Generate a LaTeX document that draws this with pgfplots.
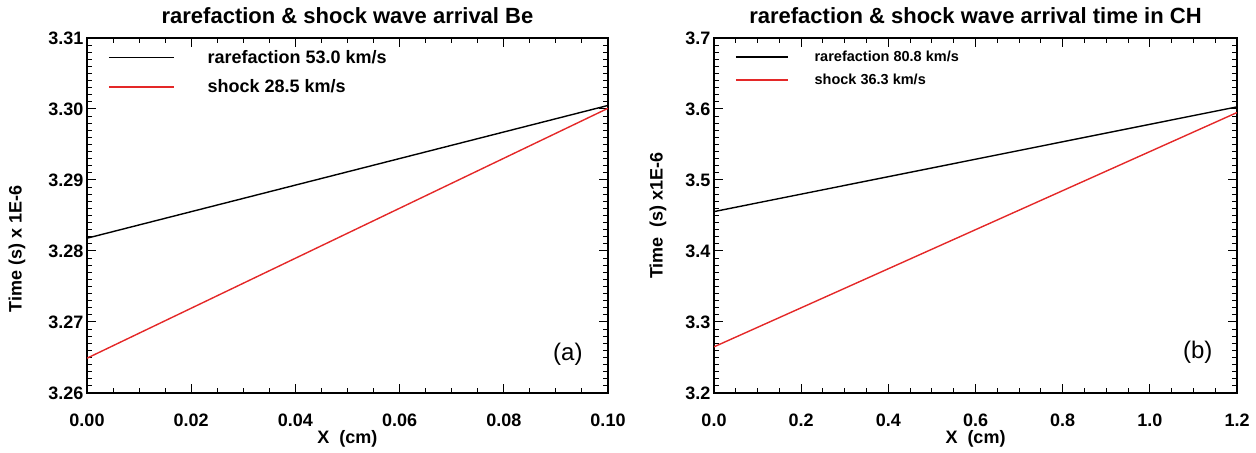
\documentclass[border=0pt]{standalone}
\usepackage{fontspec}
\setmainfont{Liberation Sans}
\usepackage{pgfplots}
\pgfplotsset{compat=1.18}
\definecolor{lred}{RGB}{228,40,40}
\begin{document}
\begin{tikzpicture}
\useasboundingbox (0bp,0bp) rectangle (1256bp,453bp);
\pgfplotsset{
 every axis/.append style={
  scale only axis,
  axis line style={line width=1.2bp},
  every tick/.style={line width=1bp, black},
  major tick length=9bp, minor tick length=5bp,
  tick align=inside,
  minor x tick num=3, minor y tick num=9,
  ticklabel style={font=\fontsize{18bp}{20bp}\selectfont\bfseries},
  xticklabel style={yshift=-17bp},
  /pgf/number format/assume math mode=true,
  /pgf/number format/fixed, /pgf/number format/fixed zerofill,
  title style={font=\fontsize{22bp}{24bp}\selectfont\bfseries, at={(0.5,1)}, anchor=center, yshift=16bp},
  xlabel style={font=\fontsize{18bp}{20bp}\selectfont\bfseries, at={(0.5,0)}, anchor=center, yshift=-46bp},
  legend image code/.code={\draw[#1] (0bp,0bp) -- (65bp,0bp);},
  legend cell align=left,
 }
}
\begin{axis}[
  at={(87bp,60bp)}, anchor=south west, width=521bp, height=355bp,
  xmin=0, xmax=0.1, ymin=3.26, ymax=3.31,
  xtick={0,0.02,...,0.1}, ytick={3.26,3.27,...,3.31},
  xticklabel style={/pgf/number format/precision=2},
  yticklabel style={/pgf/number format/precision=2},
  title={rarefaction \& shock wave arrival Be},
  xlabel={X\ \ (cm)},
  ylabel={Time (s) x 1E-6},
  every axis y label/.style={font=\fontsize{18bp}{20bp}\selectfont\bfseries, at={(rel axis cs:0,0.405)}, xshift=-70bp, rotate=90, anchor=center},
  legend style={at={(0,1)}, anchor=north west, xshift=21bp, yshift=-12bp, draw=none, fill=none, inner sep=0pt,
    font=\fontsize{18bp}{20bp}\selectfont\bfseries, row sep=15bp,
    nodes={inner sep=0pt}, /tikz/every odd column/.append style={column sep=33bp}},
]
\addplot[black, line width=1.4bp] coordinates {(0,3.2818) (0.1,3.3005)};
\addlegendentry{rarefaction 53.0 km/s}
\addplot[lred, line width=1.4bp] coordinates {(0,3.2649) (0.1,3.3001)};
\addlegendentry{shock 28.5 km/s}
\node[font=\fontsize{24bp}{26bp}\selectfont] at (rel axis cs:0.923,0.11) {(a)};
\end{axis}
\begin{axis}[
  at={(714bp,60bp)}, anchor=south west, width=523bp, height=355bp,
  xmin=0, xmax=1.2, ymin=3.2, ymax=3.7,
  xtick={0,0.2,...,1.2}, ytick={3.2,3.3,...,3.7},
  xticklabel style={/pgf/number format/precision=1},
  yticklabel style={/pgf/number format/precision=1},
  title={rarefaction \& shock wave arrival time in CH},
  xlabel={X\ \ (cm)},
  ylabel={Time\ \ (s) x1E-6},
  every axis y label/.style={font=\fontsize{18bp}{20bp}\selectfont\bfseries, at={(rel axis cs:0,0.5)}, xshift=-56bp, rotate=90, anchor=center},
  legend image code/.code={\draw[#1] (0bp,0bp) -- (52bp,0bp);},
  legend style={at={(0,1)}, anchor=north west, xshift=21bp, yshift=-13bp, draw=none, fill=none, inner sep=0pt,
    font=\fontsize{14.5bp}{16bp}\selectfont\bfseries, row sep=11bp,
    nodes={inner sep=0pt}, /tikz/every odd column/.append style={column sep=26bp}},
]
\addplot[black, line width=1.4bp] coordinates {(0,3.4555) (1.2,3.603)};
\addlegendentry{rarefaction 80.8 km/s}
\addplot[lred, line width=1.4bp] coordinates {(0,3.265) (1.2,3.595)};
\addlegendentry{shock 36.3 km/s}
\node[font=\fontsize{24bp}{26bp}\selectfont] at (rel axis cs:0.925,0.115) {(b)};
\end{axis}
\end{tikzpicture}
\end{document}
